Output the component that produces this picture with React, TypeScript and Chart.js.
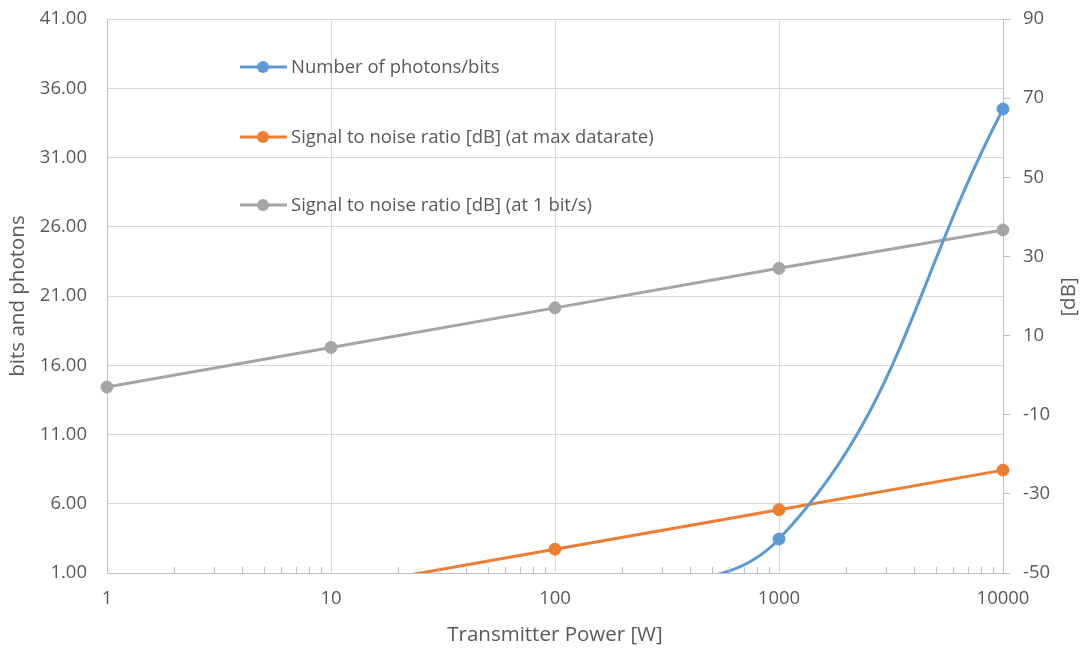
import React, { useEffect, useRef } from "react";
import { Chart, registerables } from "chart.js";

Chart.register(...registerables);

// ---- data ----
const powerW = [1, 10, 100, 1000, 10000];
const photonsPerBit = [0.00345, 0.0345, 0.345, 3.45, 34.5];
const snrMaxRate = [-64, -54, -44, -34, -24];
const snrOneBit = [-3, 7, 17, 27, 36.7];

const seriesNames = [
  "Number of photons/bits",
  "Signal to noise ratio [dB] (at max datarate)",
  "Signal to noise ratio [dB] (at 1 bit/s)",
];
const seriesColors = ["#5B9BD5", "#ED7D31", "#A5A5A5"];

const xTickValues = [1, 10, 100, 1000, 10000];
const minorMultipliers = [2, 3, 4, 5, 6, 7, 8, 9];
const leftTickValues = [1, 6, 11, 16, 21, 26, 31, 36, 41];
const rightTickValues = [-50, -30, -10, 10, 30, 50, 70, 90];

const xTitle = "Transmitter Power [W]";
const leftTitle = "bits and photons";
const rightTitle = "[dB]";

const FONT = '"Open Sans", sans-serif';
const TEXT = "#595959";
const GRID = "#d9d9d9";
const AXIS = "#bfbfbf";
const TICK_SIZE = 18.5;
const TITLE_SIZE = 20.5;

const toPoints = (ys: number[]) => powerW.map((x, i) => ({ x, y: ys[i] }));

const minorTicksPlugin = {
  id: "minorTicks",
  afterDatasetsDraw(chart: any) {
    const xs = chart.scales.x;
    const ctx = chart.ctx;
    const bottom = chart.chartArea.bottom;
    ctx.save();
    ctx.strokeStyle = AXIS;
    ctx.lineWidth = 1;
    for (let i = 0; i < xTickValues.length - 1; i++) {
      for (const m of minorMultipliers) {
        const px = Math.round(xs.getPixelForValue(xTickValues[i] * m)) + 0.5;
        ctx.beginPath();
        ctx.moveTo(px, bottom);
        ctx.lineTo(px, bottom - 6);
        ctx.stroke();
      }
    }
    ctx.restore();
  },
};

const legendPlugin = {
  id: "insideLegend",
  afterDraw(chart: any) {
    const ctx = chart.ctx;
    const rows = [67, 137, 205];
    ctx.save();
    ctx.font = `${TICK_SIZE}px ${FONT}`;
    ctx.textBaseline = "middle";
    ctx.textAlign = "left";
    chart.data.datasets.forEach((ds: any, i: number) => {
      const y = rows[i];
      ctx.strokeStyle = ds.borderColor;
      ctx.lineWidth = 3;
      ctx.beginPath();
      ctx.moveTo(240, y);
      ctx.lineTo(287, y);
      ctx.stroke();
      ctx.fillStyle = ds.borderColor;
      ctx.beginPath();
      ctx.arc(263, y, 6, 0, Math.PI * 2);
      ctx.fill();
      ctx.fillStyle = TEXT;
      ctx.fillText(ds.label, 291, y + 1);
    });
    ctx.restore();
  },
};

const titlesPlugin = {
  id: "axisTitles",
  afterDraw(chart: any) {
    const ctx = chart.ctx;
    const area = chart.chartArea;
    const cx = (area.left + area.right) / 2;
    const cy = (area.top + area.bottom) / 2;
    ctx.save();
    ctx.font = `${TITLE_SIZE}px ${FONT}`;
    ctx.fillStyle = TEXT;
    ctx.textAlign = "center";
    ctx.textBaseline = "middle";
    ctx.fillText(xTitle, cx, 635);
    ctx.save();
    ctx.translate(18, cy);
    ctx.rotate(-Math.PI / 2);
    ctx.fillText(leftTitle, 0, 0);
    ctx.restore();
    ctx.save();
    ctx.translate(1069, cy + 1);
    ctx.rotate(-Math.PI / 2);
    ctx.fillText(rightTitle, 0, 0);
    ctx.restore();
    ctx.restore();
  },
};

const fixVertical = (width: number) => (s: any) => {
  s.width = width;
  s.paddingTop = 0;
  s.paddingBottom = 0;
};

export default function App() {
  const ref = useRef<HTMLCanvasElement | null>(null);

  useEffect(() => {
    if (!ref.current) return;
    const mk = (i: number, ys: number[], axis: string, tension: number) => ({
      label: seriesNames[i],
      data: toPoints(ys),
      yAxisID: axis,
      borderColor: seriesColors[i],
      backgroundColor: seriesColors[i],
      pointBackgroundColor: seriesColors[i],
      pointBorderColor: seriesColors[i],
      borderWidth: 3,
      pointRadius: 6,
      pointBorderWidth: 1,
      tension,
      clip: { left: 10, right: 10, top: 10, bottom: 0 },
    });
    const chart = new Chart(ref.current, {
      type: "line",
      data: {
        datasets: [
          mk(0, photonsPerBit, "y", 0.4),
          mk(1, snrMaxRate, "y1", 0),
          mk(2, snrOneBit, "y1", 0),
        ],
      },
      options: {
        responsive: false,
        animation: false,
        layout: { padding: { top: 19, left: 0, right: 0, bottom: 0 } },
        plugins: { legend: { display: false }, tooltip: { enabled: false } },
        scales: {
          x: {
            type: "logarithmic",
            min: 1,
            max: 10000,
            afterBuildTicks: (s: any) => {
              s.ticks = xTickValues.map((v) => ({ value: v }));
            },
            afterFit: (s: any) => {
              s.height = 75;
            },
            grid: { color: GRID, drawTicks: false },
            border: { color: AXIS },
            ticks: {
              color: TEXT,
              font: { family: FONT, size: TICK_SIZE },
              padding: 15,
              autoSkip: false,
              maxRotation: 0,
              callback: (v: any) => String(v),
            },
          },
          y: {
            type: "linear",
            position: "left",
            min: 1,
            max: 41,
            afterBuildTicks: (s: any) => {
              s.ticks = leftTickValues.map((v) => ({ value: v }));
            },
            afterFit: fixVertical(107),
            grid: { color: GRID, drawTicks: false },
            border: { color: AXIS },
            ticks: {
              color: TEXT,
              font: { family: FONT, size: TICK_SIZE },
              padding: 20,
              callback: (v: any) => Number(v).toFixed(2),
            },
          },
          y1: {
            type: "linear",
            position: "right",
            min: -50,
            max: 90,
            afterBuildTicks: (s: any) => {
              s.ticks = rightTickValues.map((v) => ({ value: v }));
            },
            afterFit: fixVertical(83),
            grid: {
              drawOnChartArea: false,
              drawTicks: true,
              tickLength: 7,
              tickColor: AXIS,
            },
            border: { color: AXIS },
            ticks: {
              color: TEXT,
              font: { family: FONT, size: TICK_SIZE },
              padding: 13,
            },
          },
        },
      },
      plugins: [minorTicksPlugin, legendPlugin, titlesPlugin],
    } as any);
    return () => chart.destroy();
  }, []);

  return (
    <div style={{ position: "absolute", left: 0, top: 0, width: 1086, height: 648, background: "#fff" }}>
      <canvas ref={ref} width={1086} height={648} style={{ display: "block" }} />
    </div>
  );
}
